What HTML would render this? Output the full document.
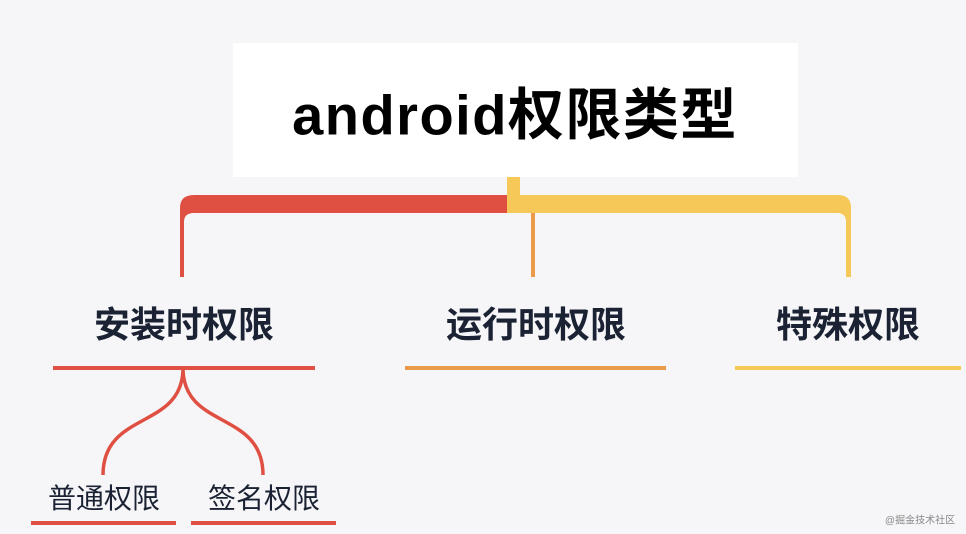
<!DOCTYPE html>
<html><head><meta charset="utf-8"><style>
body{margin:0;width:966px;height:534px;background:#f6f6f8;position:relative;overflow:hidden;font-family:"Liberation Sans","Noto Sans CJK SC",sans-serif;color:#1a2233}
.t{position:absolute;white-space:nowrap;transform:translate(-50%,-50%)}
</style></head><body>
<div style="position:absolute;left:233px;top:43px;width:565px;height:134px;background:#fff"></div>
<div class="t" style="left:515px;top:111px;font-size:56px;font-weight:bold;color:#000;letter-spacing:1.5px">android权限类型</div>
<svg width="966" height="534" style="position:absolute;left:0;top:0">
<rect x="507" y="177" width="13" height="20" fill="#f5c858"/>
<path d="M180 277 V208 Q180 195 194 195 H508 V213 H194 Q184 213 184 222 V277 Z" fill="#e05042"/>
<rect x="531" y="213" width="4" height="64" fill="#ea9a48"/>
<path d="M507 195 H838 Q851 195 851 208 V277 H846 V222 Q846 213 837 213 H507 Z" fill="#f5c858"/>
<rect x="53" y="366" width="262" height="4" fill="#e05042"/>
<rect x="405" y="366" width="261" height="4" fill="#ea9a48"/>
<rect x="735" y="366" width="226" height="4" fill="#f5c858"/>
<path d="M183 368 C183 430 103 410 103 475 M183 368 C183 430 263 410 263 475" stroke="#e05042" stroke-width="3.5" fill="none"/>
<rect x="31" y="521" width="145" height="4" fill="#e05042"/>
<rect x="191" y="521" width="145" height="4" fill="#e05042"/>
</svg>
<div class="t" style="left:184px;top:322px;font-size:36px;font-weight:bold">安装时权限</div>
<div class="t" style="left:536px;top:322px;font-size:36px;font-weight:bold">运行时权限</div>
<div class="t" style="left:848px;top:322px;font-size:36px;font-weight:bold">特殊权限</div>
<div class="t" style="left:104px;top:497px;font-size:28px">普通权限</div>
<div class="t" style="left:264px;top:497px;font-size:28px">签名权限</div>
<div class="t" style="left:920px;top:519px;font-size:10px;color:#888">@掘金技术社区</div>
</body></html>
